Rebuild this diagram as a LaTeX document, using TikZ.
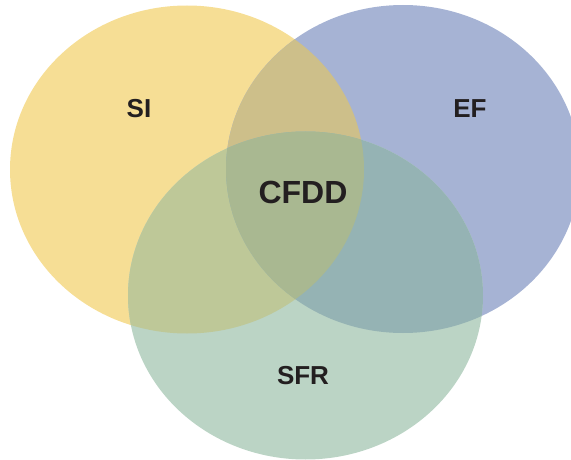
\documentclass[tikz,border=0pt]{standalone}
\usepackage{fontspec}
\setmainfont{Liberation Sans}
\definecolor{cY}{HTML}{F6DE95}
\definecolor{cB}{HTML}{A6B3D4}
\definecolor{cG}{HTML}{BBD4C5}
\definecolor{cYB}{HTML}{CDBF8A}
\definecolor{cYG}{HTML}{BEC898}
\definecolor{cBG}{HTML}{95B3B4}
\definecolor{cAll}{HTML}{A9B891}
\definecolor{ink}{HTML}{231F20}
\tikzset{
  lbl/.style={font=\bfseries\fontsize{26}{26}\selectfont, text=ink, inner sep=0pt},
  biglbl/.style={font=\bfseries\fontsize{32}{32}\selectfont, text=ink, inner sep=0pt}
}
\begin{document}
\begin{tikzpicture}[x=1pt,y=1pt]
\useasboundingbox (0,0) rectangle (571,459);
\def\Yell{(187,289.5) ellipse [x radius=177, y radius=164]}
\def\Blue{(403,290) ellipse [x radius=177, y radius=164]}
\def\Gree{(305.5,163.5) ellipse [x radius=177.5, y radius=164]}
\fill[cY] \Yell;
\fill[cB] \Blue;
\fill[cG] \Gree;
\begin{scope}\clip \Yell; \fill[cYB] \Blue; \end{scope}
\begin{scope}\clip \Yell; \fill[cYG] \Gree; \end{scope}
\begin{scope}\clip \Blue; \fill[cBG] \Gree; \end{scope}
\begin{scope}\clip \Yell; \clip \Blue; \fill[cAll] \Gree; \end{scope}
\node[lbl] (si) at (139,350) {SI};
\node[lbl] (ef) at (470,350) {EF};
\node[biglbl] (cfdd) at (303,267) {CFDD};
\node[lbl] (sfr) at (303,83) {SFR};
\end{tikzpicture}
\end{document}
